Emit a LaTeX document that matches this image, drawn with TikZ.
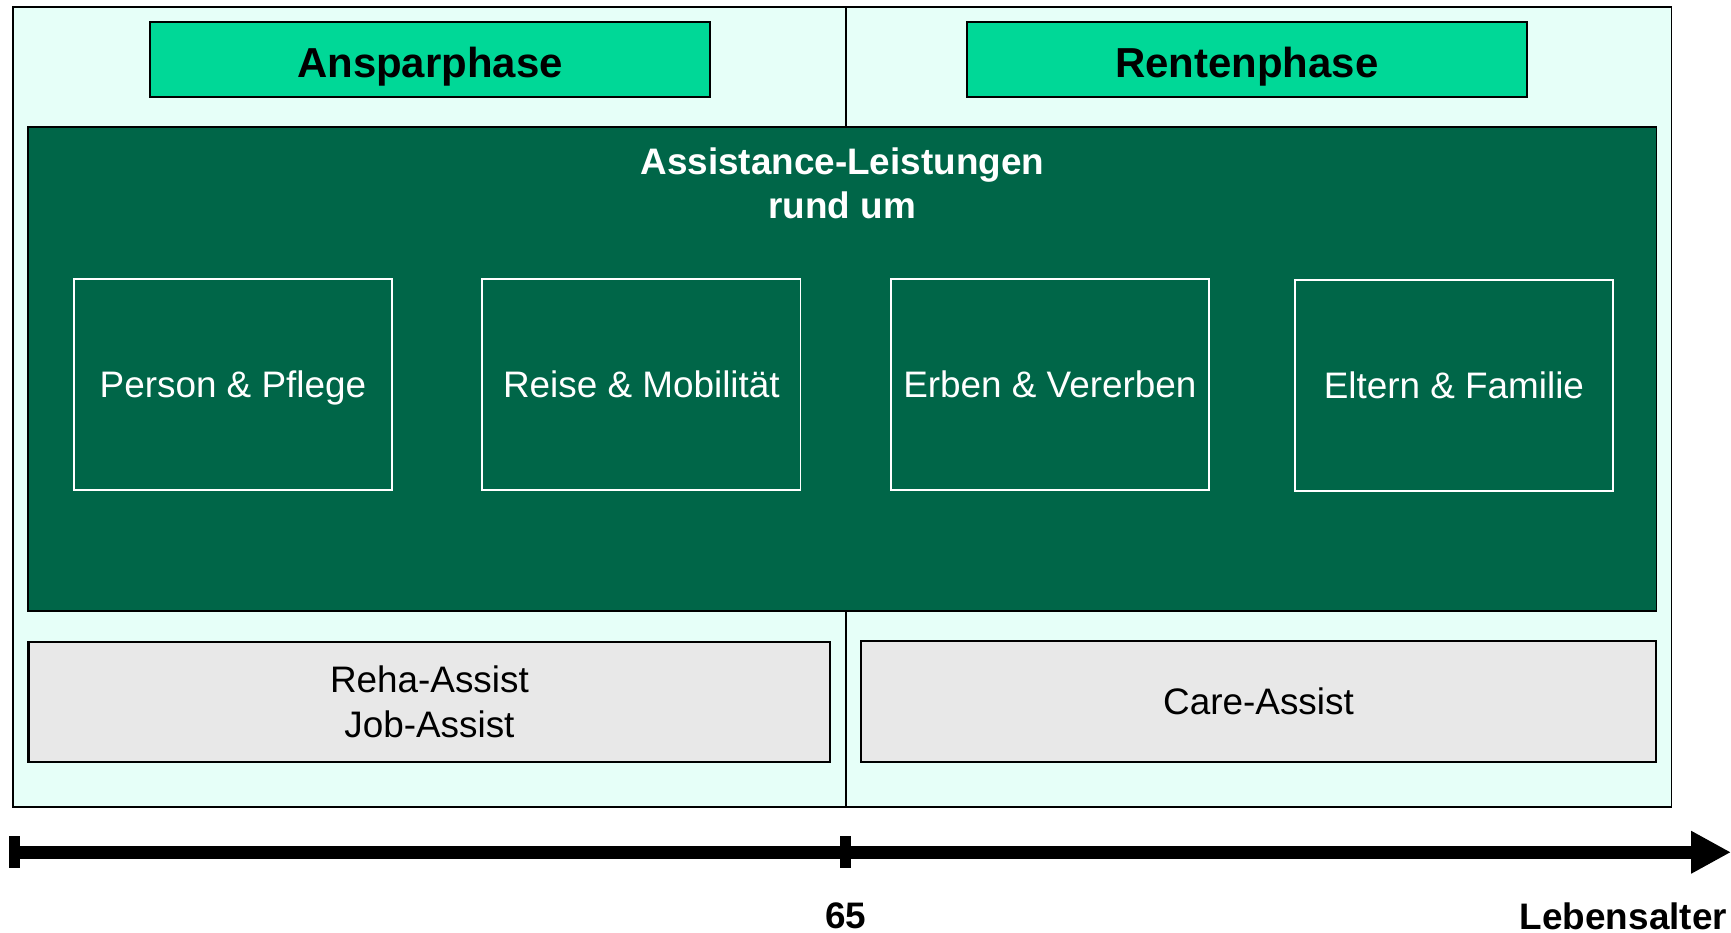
\documentclass[tikz,border=0pt]{standalone}
\usepackage{fontspec}
\setmainfont{Liberation Sans}
\usetikzlibrary{arrows.meta}

\definecolor{mintbg}{HTML}{E6FFF8}
\definecolor{phasegreen}{HTML}{00D897}
\definecolor{darkgreen}{HTML}{006648}
\definecolor{assistgray}{HTML}{E8E8E8}

\tikzset{
  phasebox/.style={draw=black, line width=0.6pt, fill=phasegreen,
    minimum width=5.07cm, minimum height=0.68cm, inner sep=0pt,
    text height=0.32cm, text depth=0cm,
    font=\fontsize{10.8}{13}\selectfont\bfseries},
  topicbox/.style={draw=white, line width=0.45pt, text=white,
    minimum width=2.88cm, minimum height=1.91cm, inner sep=0pt,
    text height=0.24cm, text depth=0cm,
    font=\fontsize{9.5}{11.4}\selectfont},
  assistbox/.style={draw=black, line width=0.55pt, fill=assistgray,
    minimum height=1.09cm, inner sep=0pt, align=center,
    font=\fontsize{9.5}{11.6}\selectfont},
  tickmark/.style={line width=0.1cm},
}

\begin{document}
\begin{tikzpicture}[x=0.01cm, y=-0.01cm]

  \useasboundingbox (0,0) rectangle (1568,845);

  %%%%%%%%%%%%%%%%%%%%%%%%%%%%%%%%%%%%%%%%%%%%%%%%%
  \begin{scope}
    % Background and phase divider
    \draw[line width=0.45pt, fill=mintbg] (12,6) rectangle (1514,731);
    \draw[line width=0.45pt] (766,6) -- (766,731);

    % Phases
    \node[phasebox] (anspar) at (389.5,54) {Ansparphase};
    \node[phasebox] (rente) at (1129.5,54) {Rentenphase};
  \end{scope}

  %%%%%%%%%%%%%%%%%%%%%%%%%%%%%%%%%%%%%%%%%%%%%%%%%
  \begin{scope}
    % Assistance panel
    \node[draw=black, line width=0.45pt, fill=darkgreen,
      minimum width=14.74cm, minimum height=4.38cm] (panel) at (763,334) {};
    \node[text=white, align=center, font=\fontsize{9.5}{11.4}\selectfont\bfseries]
      (paneltitle) at (763,166) {Assistance-Leistungen\\rund um};

    % Topic boxes
    \node[topicbox] (person) at (211,348.5) {Person \& Pflege};
    \node[topicbox] (reise) at (581,348.5) {Reise \& Mobilität};
    \node[topicbox] (erben) at (951,348.5) {Erben \& Vererben};
    \node[topicbox] (eltern) at (1317,349) {Eltern \& Familie};
  \end{scope}

  %%%%%%%%%%%%%%%%%%%%%%%%%%%%%%%%%%%%%%%%%%%%%%%%%
  \begin{scope}
    % Assist products
    \node[assistbox, minimum width=7.26cm] (rehajob) at (389,636)
      {Reha-Assist\\Job-Assist};
    \node[assistbox, minimum width=7.20cm, text height=0.24cm, text depth=0cm]
      (care) at (1140,635.5) {Care-Assist};
  \end{scope}

  %%%%%%%%%%%%%%%%%%%%%%%%%%%%%%%%%%%%%%%%%%%%%%%%%
  \begin{scope}
    % Age axis
    \coordinate (axstart) at (13,772);
    \coordinate (axsplit) at (766,772);
    \coordinate (axend) at (1568,772);
    \draw[line width=0.12cm, -{Triangle[length=0.36cm, width=0.36cm]}]
      (axstart) -- (axend);
    \draw[tickmark] ([yshift=0.145cm]axstart) -- ([yshift=-0.145cm]axstart);
    \draw[tickmark] ([yshift=0.145cm]axsplit) -- ([yshift=-0.145cm]axsplit);

    % Labels
    \node[font=\fontsize{9.5}{11.4}\selectfont\bfseries] (age) at (766,830) {65};
    \node[anchor=east, inner sep=0pt, font=\fontsize{9.5}{11.4}\selectfont\bfseries]
      (agelabel) at (1565,830) {Lebensalter};
  \end{scope}

\end{tikzpicture}
\end{document}
